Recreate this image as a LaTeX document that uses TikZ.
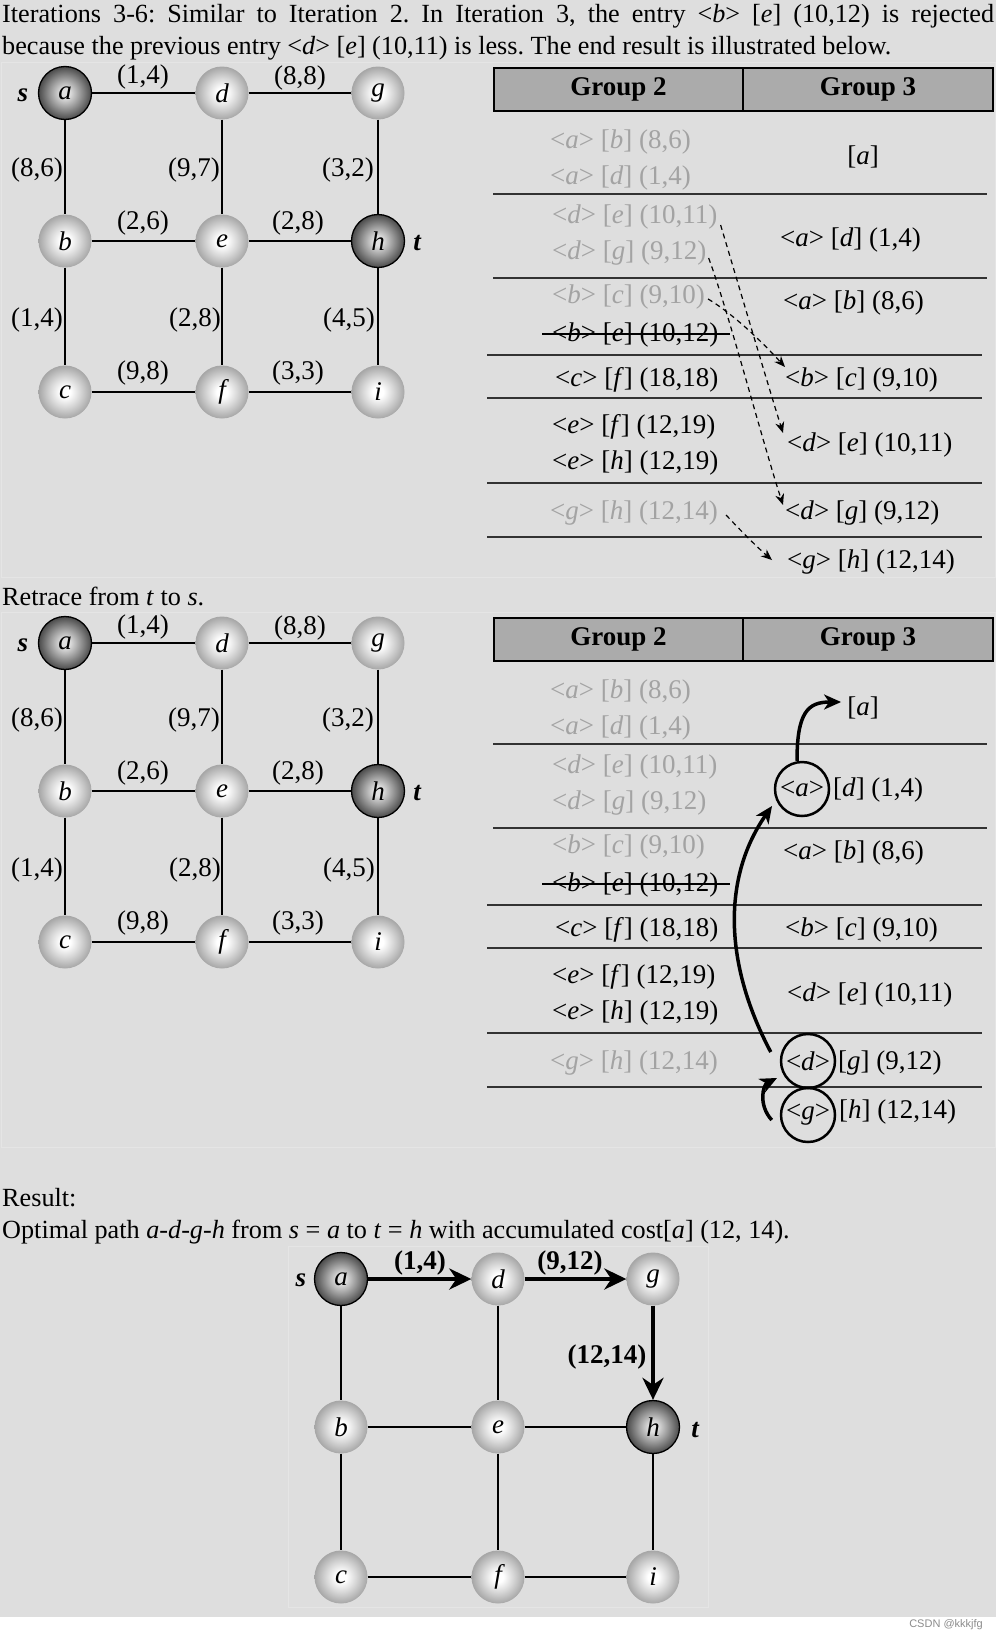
\documentclass[tikz,border=0pt]{standalone}
\usepackage{fontspec}
\setmainfont{Liberation Serif}
\newfontfamily\wmfont{Liberation Sans}
\usetikzlibrary{arrows.meta,calc}
\frenchspacing
\definecolor{bg}{HTML}{DEDEDE}
\definecolor{panelln}{HTML}{E5E5E5}
\definecolor{hdr}{HTML}{ABABAB}
\definecolor{fade}{HTML}{A3A3A3}
\definecolor{ballout}{HTML}{A6A6A6}
\definecolor{ballmid}{HTML}{D4D4D4}
\definecolor{darkin}{HTML}{E2E2E2}
\definecolor{darkmid}{HTML}{939393}
\definecolor{darkout}{HTML}{4A4A4A}
\pgfdeclareradialshading{lightball}{\pgfpoint{0bp}{0bp}}{color(0bp)=(white); color(5bp)=(white); color(15bp)=(ballmid); color(25bp)=(ballout); color(50bp)=(ballout)}
\pgfdeclareradialshading{darkball}{\pgfpoint{0bp}{0bp}}{color(0bp)=(darkin); color(4bp)=(darkin); color(15bp)=(darkmid); color(25bp)=(darkout); color(50bp)=(darkout)}
\newcommand{\tabfont}{\fontsize{27}{32}\selectfont}
\newcommand{\capfont}{\fontsize{26.2}{32}\selectfont}
\newcommand{\ent}[3]{<\textit{#1}> [\textit{#2}] (#3)}
\tikzset{
  lball/.style={circle, minimum size=53pt, inner sep=0pt, shade, shading=lightball, font=\tabfont\itshape},
  dball/.style={lball, shading=darkball, draw=black, line width=1.3pt},
  edge/.style={line width=2pt, black},
  elbl/.style={font=\tabfont, inner sep=0pt},
  stlbl/.style={font=\tabfont\bfseries\itshape, inner sep=0pt},
  txt/.style={font=\tabfont, inner sep=0pt, anchor=west},
  captxt/.style={font=\capfont, inner sep=0pt, anchor=base west},
  hdrcell/.style={draw=black, line width=1.5pt, fill=hdr, minimum height=43pt, inner sep=0pt, font=\tabfont\bfseries},
  rowline/.style={line width=1.3pt, black!80},
  dasharrow/.style={line width=1.2pt, dash pattern=on 5pt off 4pt, -{Stealth[length=11pt,width=9pt]}},
  bigarrow/.style={line width=3.5pt, -{Stealth[length=17pt,width=15pt,inset=5pt]}},
  patharrow/.style={line width=4pt, -{Stealth[length=22pt,width=21pt,inset=7pt]}},
  cnode/.style={circle, draw=black, line width=2.5pt, minimum size=54pt, inner sep=0pt, font=\tabfont},
  panel/.style={draw=panelln, line width=1pt}
}
\newcommand{\gridgraph}[2]{%
  \node[dball] (#1a) at (65,{93+#2}) {a};
  \node[lball] (#1d) at (222,{93+#2}) {d};
  \node[lball] (#1g) at (378,{93+#2}) {g};
  \node[lball] (#1b) at (65,{241+#2}) {b};
  \node[lball] (#1e) at (222,{241+#2}) {e};
  \node[dball] (#1h) at (378,{241+#2}) {h};
  \node[lball] (#1c) at (65,{392+#2}) {c};
  \node[lball] (#1f) at (222,{392+#2}) {f};
  \node[lball] (#1i) at (378,{392+#2}) {i};
  \draw[edge] (#1a) -- (#1d);
  \draw[edge] (#1d) -- (#1g);
  \draw[edge] (#1b) -- (#1e);
  \draw[edge] (#1e) -- (#1h);
  \draw[edge] (#1c) -- (#1f);
  \draw[edge] (#1f) -- (#1i);
  \draw[edge] (#1a) -- (#1b);
  \draw[edge] (#1b) -- (#1c);
  \draw[edge] (#1d) -- (#1e);
  \draw[edge] (#1e) -- (#1f);
  \draw[edge] (#1g) -- (#1h);
  \draw[edge] (#1h) -- (#1i);
  \node[elbl] (#1w1) at (143,{77+#2}) {(1,4)};
  \node[elbl] (#1w2) at (300,{78+#2}) {(8,8)};
  \node[elbl] (#1w3) at (37,{170+#2}) {(8,6)};
  \node[elbl] (#1w4) at (194,{170+#2}) {(9,7)};
  \node[elbl] (#1w5) at (348,{170+#2}) {(3,2)};
  \node[elbl] (#1w6) at (143,{223+#2}) {(2,6)};
  \node[elbl] (#1w7) at (298,{223+#2}) {(2,8)};
  \node[elbl] (#1w8) at (37,{320+#2}) {(1,4)};
  \node[elbl] (#1w9) at (195,{320+#2}) {(2,8)};
  \node[elbl] (#1w10) at (349,{320+#2}) {(4,5)};
  \node[elbl] (#1w11) at (143,{373+#2}) {(9,8)};
  \node[elbl] (#1w12) at (298,{373+#2}) {(3,3)};
  \node[stlbl] (#1s) at (23,{95+#2}) {s};
  \node[stlbl] (#1t) at (417,{243+#2}) {t};
}
\newcommand{\tablegrid}[2]{%
  \node[hdrcell, minimum width=249pt] (#1g2) at (618.5,{89.5+#2}) {Group 2};
  \node[hdrcell, minimum width=250pt] (#1g3) at (868,{89.5+#2}) {Group 3};
  \draw[rowline] (493,{194+#2}) -- (987,{194+#2});
  \draw[rowline] (493,{278+#2}) -- (987,{278+#2});
  \draw[rowline] (487,{355+#2}) -- (982,{355+#2});
  \draw[rowline] (487,{398+#2}) -- (982,{398+#2});
  \draw[rowline] (487,{483+#2}) -- (982,{483+#2});
  \draw[rowline] (487,{537+#2}) -- (982,{537+#2});
  \node[txt, text=fade] (#1l1) at (550,{142+#2}) {\ent{a}{b}{8,6}};
  \node[txt, text=fade] (#1l2) at (550,{178+#2}) {\ent{a}{d}{1,4}};
  \node[txt, text=fade] (#1l3) at (552,{217+#2}) {\ent{d}{e}{10,11}};
  \node[txt, text=fade] (#1l4) at (552,{253+#2}) {\ent{d}{g}{9,12}};
  \node[txt, text=fade] (#1l5) at (552,{297+#2}) {\ent{b}{c}{9,10}};
  \node[txt] (#1l6) at (552,{335+#2}) {\ent{b}{e}{10,12}};
  \draw[line width=1.3pt] ($(#1l6.west)+(-10,-1)$) -- ($(#1l6.east)+(11,-1)$);
  \node[txt] (#1l7) at (555,{380+#2}) {\ent{c}{f}{18,18}};
  \node[txt] (#1l8) at (552,{427+#2}) {\ent{e}{f}{12,19}};
  \node[txt] (#1l9) at (552,{463+#2}) {\ent{e}{h}{12,19}};
  \node[txt, text=fade] (#1l10) at (550,{513+#2}) {\ent{g}{h}{12,14}};
}
\begin{document}
\begin{tikzpicture}[x=1pt,y=-1pt]
\useasboundingbox (0,0) rectangle (996,1633);
\fill[bg] (0,0) rectangle (996,1617);
\fill[white] (0,1617) rectangle (996,1633);
\draw[panel] (1,62) rectangle (995,577);
\draw[panel] (1,612) rectangle (995,1147);
\draw[panel] (288,1246) rectangle (708,1607);

% captions
\node[captxt] (cap1) at (2,22) {\makebox[992pt][s]{Iterations 3-6: Similar to Iteration 2. In Iteration 3, the entry <\textit{b}> [\textit{e}] (10,12) is rejected}};
\node[captxt] (cap2) at (2,54) {because the previous entry <\textit{d}> [\textit{e}] (10,11) is less. The end result is illustrated below.};
\node[captxt] (cap3) at (2,605) {Retrace from \textit{t} to \textit{s}.};
\node[captxt] (cap4) at (2,1206) {Result:};
\node[captxt] (cap5) at (2,1238) {Optimal path \textit{a}-\textit{d}-\textit{g}-\textit{h} from \textit{s} = \textit{a} to \textit{t} = \textit{h} with accumulated cost[\textit{a}] (12, 14).};

% panel 1
\gridgraph{u}{0}
\tablegrid{u}{0}
\node[txt, anchor=center] (ur1) at (863,157) {[\textit{a}]};
\node[txt] (ur2) at (780,240) {\ent{a}{d}{1,4}};
\node[txt] (ur3) at (783,303) {\ent{a}{b}{8,6}};
\node[txt] (ur4) at (785,380) {\ent{b}{c}{9,10}};
\node[txt] (ur5) at (787,445) {\ent{d}{e}{10,11}};
\node[txt] (ur6) at (785,513) {\ent{d}{g}{9,12}};
\node[txt] (ur7) at (787,562) {\ent{g}{h}{12,14}};
\draw[dasharrow] ($(ul3.east)+(3,8)$) .. controls (740,290) and (768,385) .. ($(ur5.west)+(-4,-12)$);
\draw[dasharrow] ($(ul4.east)+(2,5)$) .. controls (728,310) and (762,440) .. ($(ur6.west)+(-2,-8)$);
\draw[dasharrow] ($(ul5.east)+(3,2)$) .. controls (735,315) and (765,345) .. ($(ur4.west)+(0,-13)$);
\draw[dasharrow] ($(ul10.east)+(8,2)$) .. controls (740,530) and (758,548) .. ($(ur7.west)+(-15,-2)$);

% panel 2
\gridgraph{v}{550}
\tablegrid{v}{550}
\node[txt, anchor=center] (vr1) at (863,708) {[\textit{a}]};
\node[cnode] (vca) at (802,789) {<\textit{a}>};
\node[txt] (vr2) at (833,790) {[\textit{d}] (1,4)};
\node[txt] (vr3) at (783,853) {\ent{a}{b}{8,6}};
\node[txt] (vr4) at (785,930) {\ent{b}{c}{9,10}};
\node[txt] (vr5) at (787,995) {\ent{d}{e}{10,11}};
\node[cnode] (vcd) at (808,1061) {<\textit{d}>};
\node[txt] (vr6) at (838,1063) {[\textit{g}] (9,12)};
\node[cnode] (vcg) at (808,1115) {<\textit{g}>};
\node[txt] (vr7) at (839,1112) {[\textit{h}] (12,14)};
\draw[bigarrow] ($(vca.north)+(-5,0)$) .. controls (797,712) and (808,702) .. ($(vr1.west)+(-6,-6)$);
\draw[bigarrow] ($(vcd.west)+(-9,-9)$) .. controls (722,960) and (724,875) .. ($(vca.south west)+(-10,-3)$);
\draw[bigarrow] ($(vcg.west)+(-8,5)$) .. controls (758,1105) and (763,1085) .. ($(vcd.south west)+(-11,-3)$);

% panel 3
\node[dball] (wa) at (341,1279) {a};
\node[lball] (wd) at (498,1279) {d};
\node[lball] (wg) at (653,1279) {g};
\node[lball] (wb) at (341,1427) {b};
\node[lball] (we) at (498,1427) {e};
\node[dball] (wh) at (653,1427) {h};
\node[lball] (wc) at (341,1577) {c};
\node[lball] (wf) at (498,1577) {f};
\node[lball] (wi) at (653,1577) {i};
\draw[edge] (wa) -- (wb);
\draw[edge] (wb) -- (wc);
\draw[edge] (wd) -- (we);
\draw[edge] (we) -- (wf);
\draw[edge] (wh) -- (wi);
\draw[edge] (wb) -- (we);
\draw[edge] (we) -- (wh);
\draw[edge] (wc) -- (wf);
\draw[edge] (wf) -- (wi);
\draw[patharrow] (wa) -- (wd);
\draw[patharrow] (wd) -- (wg);
\draw[patharrow] (wg) -- (wh);
\node[elbl, font=\tabfont\bfseries] (wl1) at (420,1263) {(1,4)};
\node[elbl, font=\tabfont\bfseries] (wl2) at (570,1263) {(9,12)};
\node[elbl, font=\tabfont\bfseries] (wl3) at (607,1357) {(12,14)};
\node[stlbl] (ws) at (301,1280) {s};
\node[stlbl] (wt) at (695,1430) {t};

\node[anchor=east, inner sep=0pt, font=\wmfont\fontsize{11}{11}\selectfont, text=black!45] (wm) at (983,1625) {CSDN @kkkjfg};
\end{tikzpicture}
\end{document}
